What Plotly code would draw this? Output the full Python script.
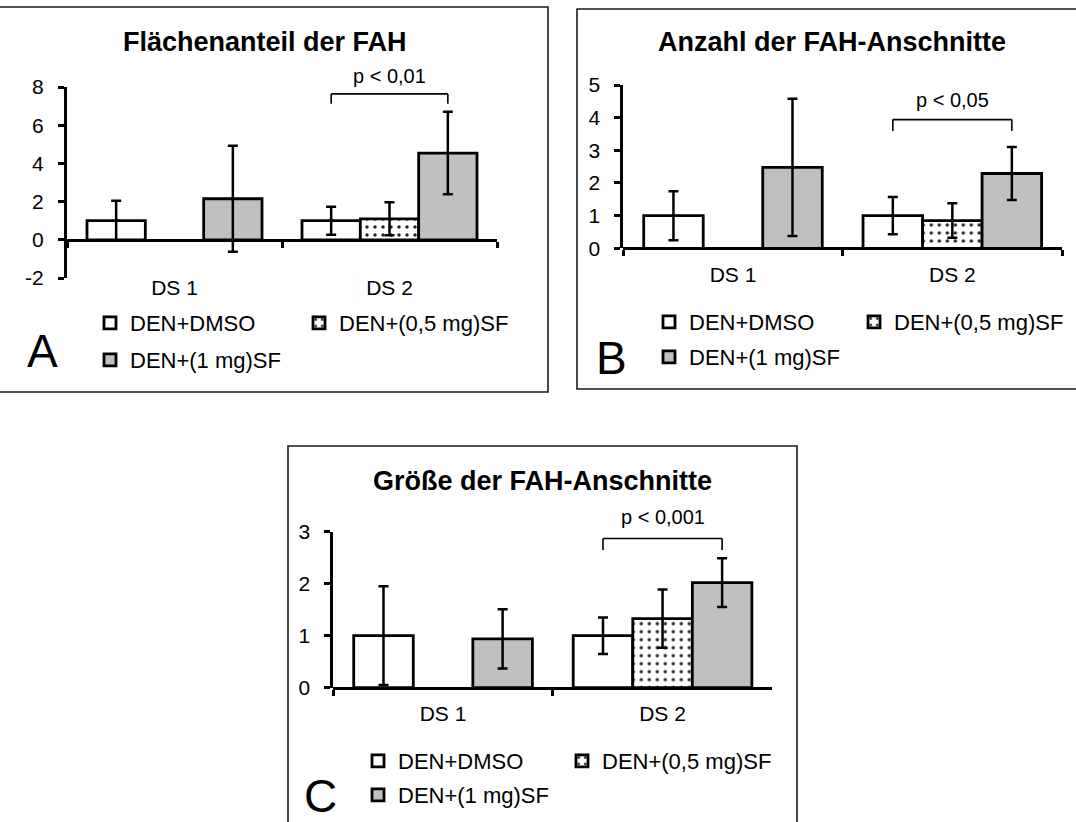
import plotly.graph_objects as go

# ---------------------------------------------------------------- data
categories = ["DS 1", "DS 2"]
groups = ["DEN+DMSO", "DEN+(0,5 mg)SF", "DEN+(1 mg)SF"]

# A: Flächenanteil der FAH
a_dmso = [1.00, 1.00]
a_sf05 = [None, 1.10]
a_sf1 = [2.15, 4.54]
a_dmso_err = [1.05, 0.73]
a_sf05_err = [None, 0.86]
a_sf1_err = [2.78, 2.16]
a_ticks = [-2, 0, 2, 4, 6, 8]

# B: Anzahl der FAH-Anschnitte
b_dmso = [1.00, 1.00]
b_sf05 = [None, 0.85]
b_sf1 = [2.48, 2.29]
b_dmso_err = [0.75, 0.57]
b_sf05_err = [None, 0.53]
b_sf1_err = [2.10, 0.81]
b_ticks = [0, 1, 2, 3, 4, 5]

# C: Größe der FAH-Anschnitte
c_dmso = [1.00, 1.00]
c_sf05 = [None, 1.33]
c_sf1 = [0.94, 2.02]
c_dmso_err = [0.95, 0.35]
c_sf05_err = [None, 0.56]
c_sf1_err = [0.57, 0.47]
c_ticks = [0, 1, 2, 3]

titles = ["Flächenanteil der FAH", "Anzahl der FAH-Anschnitte", "Größe der FAH-Anschnitte"]
p_labels = ["p < 0,01", "p < 0,05", "p < 0,001"]
panel_letters = ["A", "B", "C"]

# ---------------------------------------------------------------- layout helpers (pixels -> paper)
W, H = 1076, 822
FONT = "Liberation Sans, Arial, sans-serif"
BARGAP = 0.186


def px(x):
    return x / W


def py(y):
    return 1 - y / H


# per panel geometry in pixels
panels = [
    dict(values=(a_dmso, a_sf05, a_sf1), errors=(a_dmso_err, a_sf05_err, a_sf1_err),
         ticks=a_ticks,
         plot_x=(67, 497), plot_y=(278, 87), zero=240, box=(-6, 7, 548, 392),
         title_xy=(265, 42), letter_xy=(42, 351), p_px=76, bracket=(7.64, 7.12),
         label_standoff=28,
         legend_xy=[(114, 323), (323, 323), (114, 360)]),
    dict(values=(b_dmso, b_sf05, b_sf1), errors=(b_dmso_err, b_sf05_err, b_sf1_err),
         ticks=b_ticks,
         plot_x=(623.3, 1062), plot_y=(248.3, 85), zero=248.3, box=(577, 9, 1090, 389),
         title_xy=(831.5, 42), letter_xy=(611.5, 358), p_px=100, bracket=(3.94, 3.59),
         label_standoff=6,
         legend_xy=[(673, 322), (878, 322), (673, 357)]),
    dict(values=(c_dmso, c_sf05, c_sf1), errors=(c_dmso_err, c_sf05_err, c_sf1_err),
         ticks=c_ticks,
         plot_x=(333.3, 772.3), plot_y=(687.7, 531.7), zero=687.7, box=(288, 446, 797, 840),
         title_xy=(542.5, 481), letter_xy=(320.5, 796), p_px=517, bracket=(2.87, 2.65),
         label_standoff=6,
         legend_xy=[(382, 761), (586, 761), (382, 795)]),
]

fills = [
    dict(color="white"),
    dict(color="white", pattern=dict(shape=".", fgcolor="#222222", bgcolor="white",
                                     size=8, solidity=0.14)),
    dict(color="#c0c0c0"),
]

fig = go.Figure()
layout = dict(
    template="none",
    width=W, height=H, margin=dict(l=0, r=0, t=0, b=0, autoexpand=False),
    paper_bgcolor="white", plot_bgcolor="rgba(0,0,0,0)",
    barmode="group", bargap=BARGAP, bargroupgap=0,
    font=dict(family=FONT, color="black"),
    showlegend=True,
)
shapes = []
annotations = []
legend_no = 0

for i, p in enumerate(panels):
    sfx = "" if i == 0 else str(i + 1)
    xa, ya = "x" + sfx, "y" + sfx

    # bars with error bars, one legend per entry
    for k in range(3):
        legend_no += 1
        lid = "legend" if legend_no == 1 else "legend" + str(legend_no)
        fig.add_trace(go.Bar(
            x=categories, y=p["values"][k], name=groups[k],
            marker=dict(**fills[k], line=dict(color="black", width=2.8)),
            error_y=dict(type="data", array=p["errors"][k], color="black",
                         thickness=2.5, width=5),
            xaxis=xa, yaxis=ya, legend=lid, showlegend=True,
        ))
        sx, sy = p["legend_xy"][k]
        layout[lid] = dict(
            x=px(sx - 24), y=py(sy), xanchor="left", yanchor="middle",
            orientation="h", bgcolor="rgba(0,0,0,0)", borderwidth=0,
            font=dict(family=FONT, size=22, color="black"),
            itemclick=False, itemdoubleclick=False,
        )

    # axes
    ticks = p["ticks"]
    layout["xaxis" + sfx] = dict(
        type="category", domain=[px(p["plot_x"][0]), px(p["plot_x"][1])],
        range=[-0.5, 1.5], anchor="free", position=py(p["zero"]),
        showline=True, linecolor="black", linewidth=3,
        ticks="outside", tickson="boundaries", ticklen=6, tickwidth=2.5, tickcolor="black",
        ticklabelstandoff=p["label_standoff"],
        tickfont=dict(family=FONT, size=21, color="black"),
        showgrid=False, zeroline=False, fixedrange=True, automargin=False,
    )
    layout["yaxis" + sfx] = dict(
        domain=[py(p["plot_y"][0]), py(p["plot_y"][1])], anchor=xa,
        range=[ticks[0], ticks[-1]], tickmode="array",
        tickvals=ticks, ticktext=[str(t) for t in ticks],
        showline=True, linecolor="black", linewidth=3,
        ticks="outside", ticklen=6, tickwidth=2.5, tickcolor="black",
        ticklabelstandoff=10,
        tickfont=dict(family=FONT, size=21, color="black"),
        showgrid=False, zeroline=False, fixedrange=True, automargin=False,
    )

    # panel frame
    bx0, by0, bx1, by1 = p["box"]
    shapes.append(dict(type="rect", xref="paper", yref="paper",
                       x0=px(bx0), x1=px(bx1), y0=py(by1), y1=py(by0),
                       line=dict(color="#1a1a1a", width=1.6), fillcolor="rgba(0,0,0,0)",
                       layer="below"))

    # significance bracket between DEN+DMSO and DEN+(1 mg)SF in DS 2
    slot = (1 - BARGAP) / 3
    xl, xr = 1 - slot, 1 + slot
    top, foot = p["bracket"]
    for (x0, y0, x1, y1) in [(xl, foot, xl, top), (xl, top, xr, top), (xr, top, xr, foot)]:
        shapes.append(dict(type="line", xref=xa, yref=ya, x0=x0, y0=y0, x1=x1, y1=y1,
                           line=dict(color="black", width=1.6)))
    annotations.append(dict(xref=xa, yref="paper", x=1, y=py(p["p_px"]), text=p_labels[i],
                            showarrow=False, xanchor="center", yanchor="middle",
                            font=dict(family=FONT, size=20, color="black")))

    # title and panel letter
    tx, ty = p["title_xy"]
    annotations.append(dict(xref="paper", yref="paper", x=px(tx), y=py(ty),
                            text="<b>" + titles[i] + "</b>", showarrow=False,
                            xanchor="center", yanchor="middle",
                            font=dict(family=FONT, size=27, color="black")))
    lx, ly = p["letter_xy"]
    annotations.append(dict(xref="paper", yref="paper", x=px(lx), y=py(ly),
                            text=panel_letters[i], showarrow=False,
                            xanchor="center", yanchor="middle",
                            font=dict(family=FONT, size=46, color="black")))

layout["shapes"] = shapes
layout["annotations"] = annotations
fig.update_layout(**layout)
fig.write_html("out.html")
